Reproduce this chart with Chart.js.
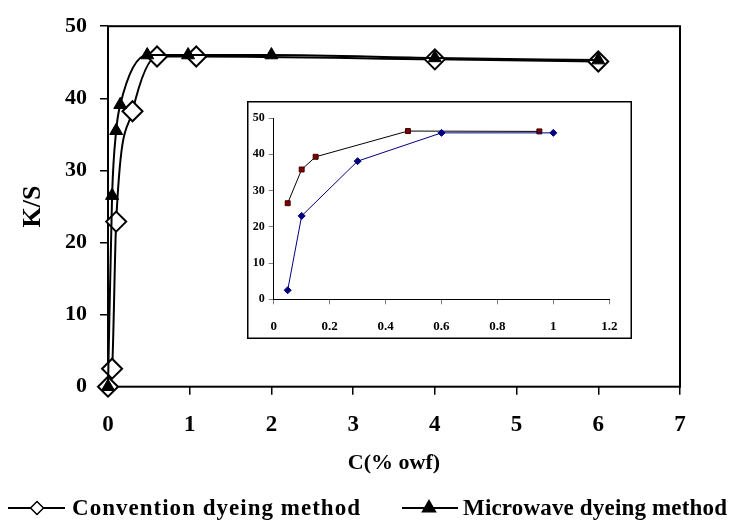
<!DOCTYPE html>
<html><head><meta charset="utf-8">
<script src="https://cdn.jsdelivr.net/npm/chart.js@4/dist/chart.umd.min.js"></script>
<style>
html,body{margin:0;padding:0;background:#fff;}
#wrap{position:relative;width:746px;height:521px;overflow:hidden;}
#main{position:absolute;left:0;top:0;}
#inset{position:absolute;left:247px;top:101px;}
</style></head><body>
<div id="wrap"><canvas id="main" width="746" height="521"></canvas><canvas id="inset" width="385" height="238"></canvas></div>
<script>
// ---- data ----
const convX = [0, 0.05, 0.1, 0.3, 0.6, 1.08, 4, 6];
const convY = [0, 2.5, 22.9, 38.2, 45.8, 45.8, 45.4, 45.1];
const microX = [0, 0.05, 0.1, 0.15, 0.48, 0.98, 2, 4, 6];
const microY = [0, 26.5, 35.5, 39.1, 46, 46, 46, 45.6, 45.3];
const insetConvX = [0.05, 0.1, 0.3, 0.6, 1.0];
const insetConvY = [2.5, 23, 38.1, 45.9, 45.9];
const insetMicroX = [0.05, 0.1, 0.15, 0.48, 0.95];
const insetMicroY = [26.5, 35.8, 39.3, 46.4, 46.3];
const mainXTicks = [0, 1, 2, 3, 4, 5, 6, 7];
const mainYTicks = [0, 10, 20, 30, 40, 50];
const insetXTicks = [0, 0.2, 0.4, 0.6, 0.8, 1, 1.2];
const insetYTicks = [0, 10, 20, 30, 40, 50];
const seriesNames = ['Convention dyeing method', 'Microwave dyeing method'];
const xTitle = 'C(% owf)';
const yTitle = 'K/S';

const SERIF = "'Liberation Serif','Times New Roman',serif";
const pts = (xs, ys) => xs.map((x, i) => ({x: x, y: ys[i]}));

const boxPlugin = {
  id: 'box',
  beforeDatasetsDraw(chart) {
    const a = chart.chartArea, ctx = chart.ctx;
    ctx.save();
    ctx.strokeStyle = '#000';
    ctx.lineWidth = 2;
    ctx.strokeRect(a.left, a.top, a.right - a.left, a.bottom - a.top);
    ctx.restore();
  }
};

const legendPlugin = {
  id: 'customLegend',
  afterDraw(chart) {
    const ctx = chart.ctx;
    const items = [
      {x0: 8, x1: 65, mx: 37, tx: 72, tw: 288, text: seriesNames[0], style: 'rectRot', r: 6.5, fill: '#fff'},
      {x0: 402, x1: 458, mx: 429, tx: 463, tw: 264, text: seriesNames[1], style: 'triangle', r: 7.5, fill: '#000'}
    ];
    const y = 508;
    ctx.save();
    items.forEach(it => {
      ctx.strokeStyle = '#000';
      ctx.lineWidth = 2;
      ctx.beginPath();
      ctx.moveTo(it.x0, y);
      ctx.lineTo(it.x1, y);
      ctx.stroke();
      ctx.fillStyle = it.fill;
      ctx.strokeStyle = '#000';
      ctx.lineWidth = 1.5;
      Chart.helpers.drawPoint(ctx, {pointStyle: it.style, radius: it.r, rotation: 0, borderWidth: 1.5}, it.mx, y);
      ctx.font = 'bold 23px ' + SERIF;
      ctx.fillStyle = '#000';
      ctx.textBaseline = 'alphabetic';
      ctx.textAlign = 'left';
      if ('letterSpacing' in ctx) {
        ctx.letterSpacing = '0px';
        const w = ctx.measureText(it.text).width;
        const ls = (it.tw - w) / (it.text.length - 1);
        ctx.letterSpacing = ls.toFixed(2) + 'px';
      }
      ctx.fillText(it.text, it.tx, 515);
      if ('letterSpacing' in ctx) ctx.letterSpacing = '0px';
    });
    ctx.restore();
  }
};

new Chart(document.getElementById('main'), {
  type: 'line',
  data: {
    datasets: [
      {label: seriesNames[0], data: pts(convX, convY), borderColor: '#000', borderWidth: 2,
       pointStyle: 'rectRot', pointRadius: 10, pointBackgroundColor: '#fff', pointBorderColor: '#000',
       pointBorderWidth: 2, cubicInterpolationMode: 'monotone', clip: false, order: 2},
      {label: seriesNames[1], data: pts(microX, microY), borderColor: '#000', borderWidth: 2,
       pointStyle: 'triangle', pointRadius: 7.5, pointBackgroundColor: '#000', pointBorderColor: '#000',
       pointBorderWidth: 1, cubicInterpolationMode: 'monotone', clip: false, order: 1}
    ]
  },
  options: {
    responsive: false, animation: false, devicePixelRatio: 1,
    layout: {padding: {left: 0, right: 66, top: 22.7, bottom: 0}},
    plugins: {legend: {display: false}, tooltip: {enabled: false}},
    scales: {
      x: {
        type: 'linear', min: 0, max: 7,
        afterBuildTicks: s => { s.ticks = mainXTicks.map(v => ({value: v})); },
        afterFit: s => { s.height = 134.3; },
        grid: {drawOnChartArea: false, drawTicks: true, tickLength: 8, color: '#000', lineWidth: 1.5},
        border: {display: false},
        ticks: {padding: 16.5, color: '#000', autoSkip: false, maxRotation: 0,
                font: {family: SERIF, size: 23, weight: 'bold'}},
        title: {display: true, text: xTitle, color: '#000', font: {family: SERIF, size: 22, weight: 'bold'},
                padding: {top: 0, bottom: 44}}
      },
      y: {
        type: 'linear', min: 0, max: 50,
        afterBuildTicks: s => { s.ticks = mainYTicks.map(v => ({value: v})); },
        afterFit: s => { s.width = 108; },
        grid: {drawOnChartArea: false, drawTicks: true, tickLength: 8, color: '#000', lineWidth: 1.5},
        border: {display: false},
        ticks: {padding: 13, color: '#000', autoSkip: false,
                font: {family: SERIF, size: 22, weight: 'bold'}},
        title: {display: true, text: yTitle, color: '#000', font: {family: SERIF, size: 26, weight: 'bold'},
                padding: {top: 17.4, bottom: 0}}
      }
    }
  },
  plugins: [boxPlugin, legendPlugin]
});

const insetFrame = {
  id: 'insetFrame',
  beforeDraw(chart) {
    const ctx = chart.ctx;
    ctx.save();
    ctx.fillStyle = '#fff';
    ctx.fillRect(0, 0, chart.width, chart.height);
    ctx.strokeStyle = '#000';
    ctx.lineWidth = 1.5;
    ctx.strokeRect(0.75, 0.75, chart.width - 1.5, chart.height - 1.5);
    ctx.restore();
  }
};

new Chart(document.getElementById('inset'), {
  type: 'line',
  data: {
    datasets: [
      {label: seriesNames[1], data: pts(insetMicroX, insetMicroY), borderColor: '#000', borderWidth: 1,
       pointStyle: 'rect', pointRadius: 3.5, pointBackgroundColor: '#800000', pointBorderColor: '#3a0000',
       pointBorderWidth: 1, tension: 0, clip: false, order: 2},
      {label: seriesNames[0], data: pts(insetConvX, insetConvY), borderColor: '#000080', borderWidth: 1,
       pointStyle: 'rectRot', pointRadius: 3.5, pointBackgroundColor: '#000080', pointBorderColor: '#000080',
       pointBorderWidth: 1, tension: 0, clip: false, order: 1}
    ]
  },
  options: {
    responsive: false, animation: false, devicePixelRatio: 1,
    layout: {padding: {left: 0, right: 11.5, top: 17, bottom: 0}},
    plugins: {legend: {display: false}, tooltip: {enabled: false}},
    scales: {
      x: {
        type: 'linear', min: 0, max: 1.2,
        afterBuildTicks: s => { s.ticks = insetXTicks.map(v => ({value: v})); },
        afterFit: s => { s.height = 39.7; },
        grid: {drawOnChartArea: false, drawTicks: true, tickLength: 5, color: '#808080', lineWidth: 1},
        border: {display: true, color: '#000', width: 1},
        ticks: {padding: 14.6, color: '#000', autoSkip: false, maxRotation: 0,
                callback: v => String(Math.round(v * 10) / 10),
                font: {family: SERIF, size: 13, weight: 'bold'}}
      },
      y: {
        type: 'linear', min: 0, max: 50,
        afterBuildTicks: s => { s.ticks = insetYTicks.map(v => ({value: v})); },
        afterFit: s => { s.width = 26.7; },
        grid: {drawOnChartArea: false, drawTicks: true, tickLength: 5, color: '#808080', lineWidth: 1},
        border: {display: true, color: '#000', width: 1},
        ticks: {padding: 4, color: '#000', autoSkip: false,
                font: {family: SERIF, size: 12, weight: 'bold'}}
      }
    }
  },
  plugins: [insetFrame]
});
</script>
</body></html>
